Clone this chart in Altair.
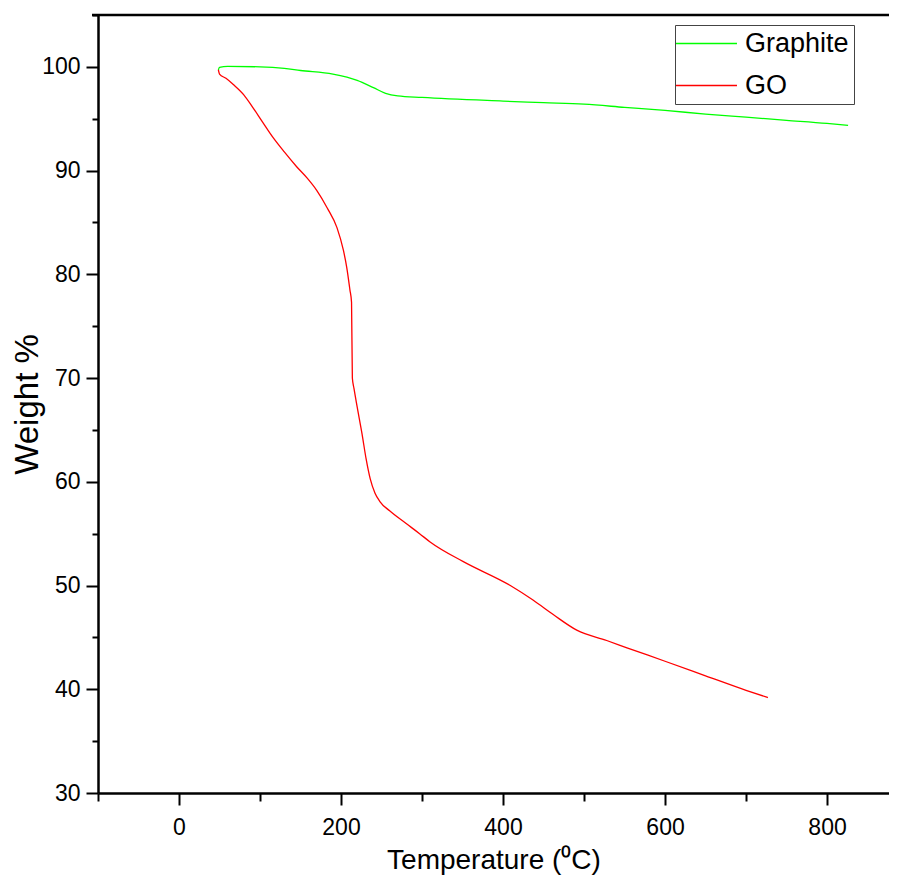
import altair as alt
import pandas as pd

# Graphite TGA curve (Temperature °C, Weight %)
graphite_t = [48.6, 50, 60, 100, 130, 150, 190, 220, 240, 255, 270, 300, 400, 450, 500, 550, 600, 650, 700, 750, 800, 826]
graphite_w = [99.7, 99.95, 100.05, 100.0, 99.85, 99.65, 99.3, 98.7, 98.0, 97.45, 97.2, 97.05, 96.7, 96.55, 96.4, 96.1, 95.8, 95.45, 95.15, 94.85, 94.55, 94.35]

# GO TGA curve
go_t = [48.6, 50, 58, 67, 80, 91, 103, 116, 130, 145, 158, 170, 183, 195, 203, 207, 211, 213, 214, 216, 220, 226, 231, 236, 242, 248, 260, 280, 297, 310, 351, 409, 437, 462, 491, 528, 553, 600, 650, 700, 727]
go_w = [99.7, 99.3, 98.9, 98.3, 97.3, 96.1, 94.7, 93.2, 91.8, 90.4, 89.3, 88.1, 86.4, 84.5, 82.3, 80.7, 78.5, 77.3, 70.0, 69.0, 67.2, 64.6, 62.2, 60.3, 58.9, 58.1, 57.2, 56.0, 55.0, 54.2, 52.3, 50.0, 48.6, 47.2, 45.7, 44.7, 44.0, 42.7, 41.3, 39.9, 39.2]

series_names = ["Graphite", "GO"]
series_colors = ["#00ff00", "#ff0000"]

x_ticks = list(range(-100, 900, 100))
y_ticks = list(range(30, 110, 5))

rows = []
for i, (t, w) in enumerate(zip(graphite_t, graphite_w)):
    rows.append({"T": t, "W": w, "series": "Graphite", "idx": i})
for i, (t, w) in enumerate(zip(go_t, go_w)):
    rows.append({"T": t, "W": w, "series": "GO", "idx": i})
df = pd.DataFrame(rows)

FONT = "Liberation Sans, Arial, sans-serif"
W, H = 791, 778

lines = alt.Chart(df).mark_line(strokeWidth=1.3, interpolate="monotone").encode(
    x=alt.X(
        "T:Q",
        scale=alt.Scale(domain=[-100, 876.5], nice=False, zero=False),
        axis=alt.Axis(
            values=x_ticks,
            labelExpr="datum.value % 200 === 0 ? datum.label : ''",
            tickSize={"condition": {"test": "datum.value % 200 === 0", "value": 12}, "value": 8},
            tickWidth=2,
            domainWidth=2.5,
            domainColor="black",
            tickColor="black",
            labelFont=FONT,
            labelFontSize=23,
            labelColor="black",
            labelPadding=11,
            grid=False,
            title="Temperature (⁰C)",
            titleFont=FONT,
            titleFontSize=28,
            titleFontWeight="normal",
            titleColor="black",
            titlePadding=7,
        ),
    ),
    y=alt.Y(
        "W:Q",
        scale=alt.Scale(domain=[30, 105], nice=False, zero=False),
        axis=alt.Axis(
            values=y_ticks,
            labelExpr="datum.value % 10 === 0 ? datum.label : ''",
            tickSize={"condition": {"test": "datum.value % 10 === 0", "value": 12}, "value": 6},
            tickWidth=2,
            domainWidth=2.5,
            domainColor="black",
            tickColor="black",
            labelFont=FONT,
            labelFontSize=23,
            labelColor="black",
            labelPadding=6,
            grid=False,
            title="Weight %",
            titleFont=FONT,
            titleFontSize=33,
            titleFontWeight="normal",
            titleColor="black",
            titlePadding=-3,
        ),
    ),
    color=alt.Color(
        "series:N",
        scale=alt.Scale(domain=series_names, range=series_colors),
        legend=alt.Legend(
            title=None,
            orient="none",
            legendX=577,
            legendY=10,
            direction="vertical",
            symbolType="M-3,0H3",
            symbolSize=413,
            symbolStrokeWidth=1.5,
            symbolOffset=13,
            labelOffset=25,
            labelFont=FONT,
            labelFontSize=27,
            labelColor="black",
            rowPadding=14,
            padding=5,
            strokeColor="#444444",
            fillColor="white",
        ),
    ),
    order="idx:Q",
)

top_border = alt.Chart(alt.Data(values=[{}])).mark_rule(color="black", strokeWidth=2.5).encode(
    x=alt.value(-6), x2=alt.value(W), y=alt.value(0)
)

chart = alt.layer(lines, top_border).properties(
    width=W,
    height=H,
    autosize=alt.AutoSizeParams(type="none"),
    padding={"left": 90, "top": 7, "right": 0, "bottom": 90},
).configure_view(stroke=None).configure(background="white")

chart.save("out.html", embed_options={"renderer": "svg", "actions": False})
